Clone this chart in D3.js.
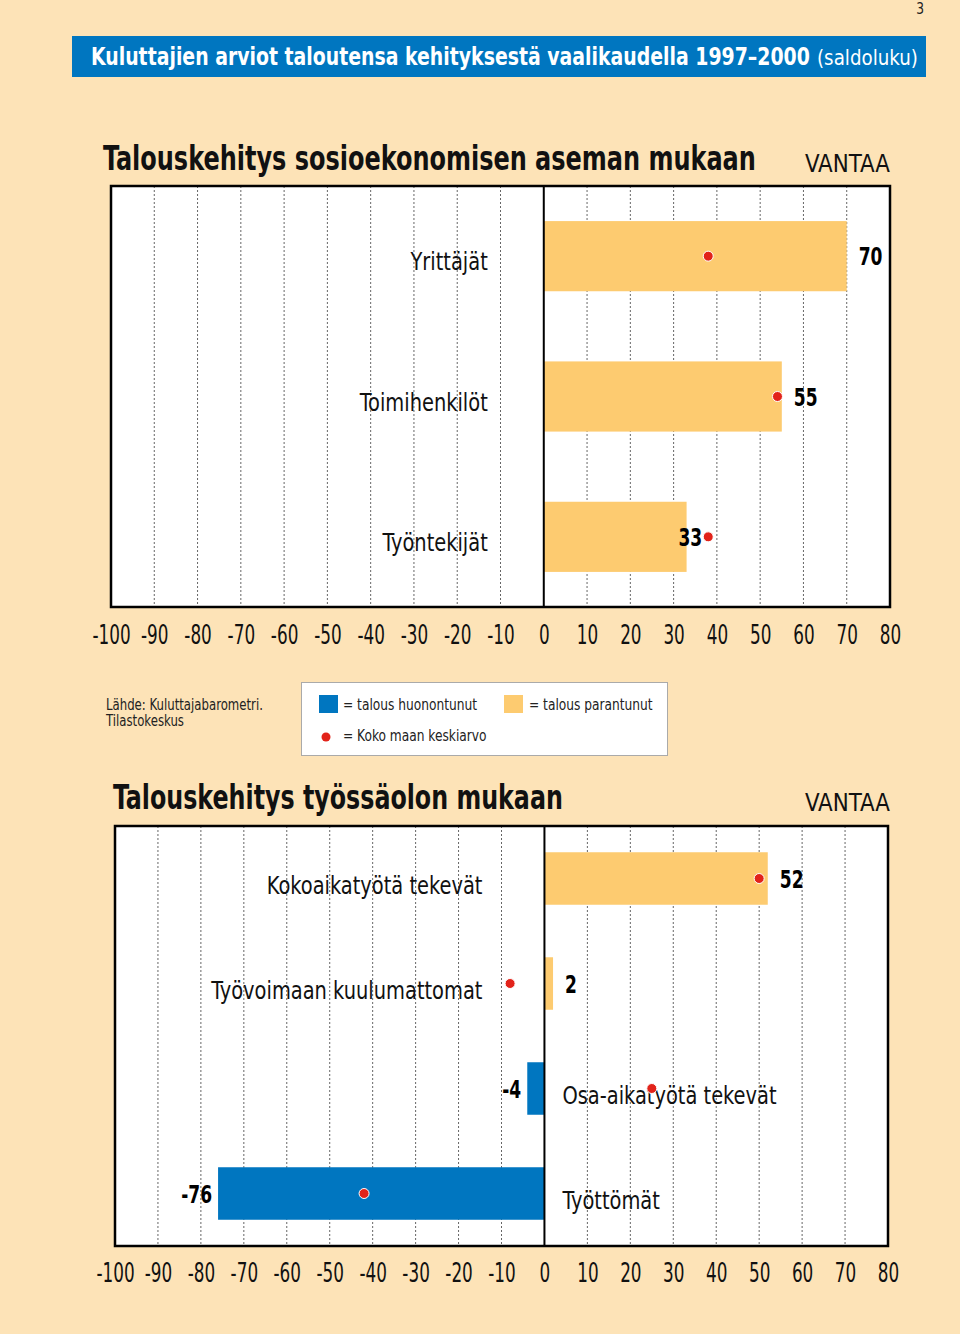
<!DOCTYPE html>
<html><head><meta charset="utf-8">
<script src="https://cdn.jsdelivr.net/npm/d3@7"></script>
<style>
html,body{margin:0;padding:0;background:#fde3b7;}
svg{display:block;}
text{font-family:"DejaVu Sans Condensed","DejaVu Sans",sans-serif;}
</style></head>
<body>
<svg id="c" width="960" height="1334"></svg>
<script>
// ---- data ----
const headerTitle = "Kuluttajien arviot taloutensa kehityksestä vaalikaudella 1997–2000";
const headerNote = "(saldoluku)";
const topTitle = "Talouskehitys sosioekonomisen aseman mukaan";
const bottomTitle = "Talouskehitys työssäolon mukaan";
const regionLabel = "VANTAA";
const topCategories = ["Yrittäjät", "Toimihenkilöt", "Työntekijät"];
const topValues = [70, 55, 33];
const topNationalAvg = [38, 54, 38];
const bottomCategories = ["Kokoaikatyötä tekevät", "Työvoimaan kuulumattomat", "Osa-aikatyötä tekevät", "Työttömät"];
const bottomValues = [52, 2, -4, -76];
const bottomNationalAvg = [50, -8, 25, -42];
const tickValues = [-100, -90, -80, -70, -60, -50, -40, -30, -20, -10, 0, 10, 20, 30, 40, 50, 60, 70, 80];
const legendItems = ["= talous huonontunut", "= talous parantunut", "= Koko maan keskiarvo"];
const sourceLines = ["Lähde: Kuluttajabarometri.", "Tilastokeskus"];

// ---- style ----
const C = {bg:"#fde3b7", blue:"#0076c0", yellow:"#fdcb70", red:"#e2231a", grid:"#666"};
const svg = d3.select("#c");
svg.append("rect").attr("width",960).attr("height",1334).attr("fill",C.bg);

// condensed text helper: text drawn at origin of a translated, horizontally scaled group
function ctext(parent, x, y, str, o){
  o = Object.assign({size:16, weight:"normal", anchor:"start", sx:0.8, fill:"#111", width:null}, o||{});
  const g = parent.append("g");
  const t = g.append("text").attr("x",0).attr("y",0).attr("text-anchor",o.anchor)
    .attr("font-size",o.size).attr("font-weight",o.weight).attr("fill",o.fill).text(str);
  let sx = o.sx;
  if(o.width){ sx = o.width / t.node().getComputedTextLength(); }
  g.attr("transform",`translate(${x},${y}) scale(${sx},1)`);
  return g;
}

ctext(svg, 924, 14, "3", {size:16, anchor:"end", fill:"#222", sx:0.85});

// header bar
svg.append("rect").attr("x",72).attr("y",36).attr("width",854).attr("height",41).attr("fill",C.blue);
ctext(svg, 91, 65, headerTitle, {size:25, weight:"bold", fill:"#fff", width:719});
ctext(svg, 817, 65, headerNote, {size:22, fill:"#fff", width:101});

function drawChart(cfg){
  const x = d3.scaleLinear().domain([-100,80]).range([cfg.x0, cfg.x1]);
  const y = d3.scaleBand().domain(cfg.cats).range([cfg.y0, cfg.y1]).paddingInner(0.5).paddingOuter(0.25);
  const g = svg.append("g");
  // title
  ctext(g, cfg.titleX, cfg.titleY, cfg.title, {size:34, weight:"bold", width:cfg.titleW});
  ctext(g, 805, cfg.titleY+2, regionLabel, {size:25, width:85});
  // plot background
  g.append("rect").attr("x",cfg.x0).attr("y",cfg.y0).attr("width",cfg.x1-cfg.x0).attr("height",cfg.y1-cfg.y0).attr("fill","#fff");
  // grid
  g.selectAll(".grid").data(tickValues.filter(v=>v!==0 && v!==-100 && v!==80)).join("line")
    .attr("x1",d=>x(d)).attr("x2",d=>x(d)).attr("y1",cfg.y0).attr("y2",cfg.y1)
    .attr("stroke",C.grid).attr("stroke-width",1).attr("stroke-dasharray","2,2");
  // bars
  const rows = cfg.cats.map((c,i)=>({c, v:cfg.vals[i], a:cfg.avg[i]}));
  g.selectAll(".bar").data(rows).join("rect")
    .attr("x",d=>x(Math.min(0,d.v))).attr("width",d=>Math.abs(x(d.v)-x(0)))
    .attr("y",d=>y(d.c)).attr("height",y.bandwidth())
    .attr("fill",d=>d.v>=0?C.yellow:C.blue);
  // zero line
  g.append("line").attr("x1",x(0)).attr("x2",x(0)).attr("y1",cfg.y0).attr("y2",cfg.y1).attr("stroke","#000").attr("stroke-width",2);
  // frame
  g.append("rect").attr("x",cfg.x0).attr("y",cfg.y0).attr("width",cfg.x1-cfg.x0).attr("height",cfg.y1-cfg.y0)
    .attr("fill","none").attr("stroke","#000").attr("stroke-width",2.5);
  // category labels
  rows.forEach(d=>{
    ctext(g, d.v>=0? x(0)-cfg.catGap : x(0)+18, y(d.c)+y.bandwidth()/2+cfg.catDy, d.c,
      {size:24, anchor:d.v>=0?"end":"start", sx:0.9});
  });
  // value labels
  rows.forEach(d=>{
    let lx, anchor;
    if(d.v<0){ lx = x(d.v)-6; anchor="end"; }
    else if(d.a>d.v){ lx = x(d.a)-6; anchor="end"; }
    else { lx = x(d.v)+12; anchor="start"; }
    ctext(g, lx, y(d.c)+y.bandwidth()/2+9, String(d.v), {size:25, weight:"bold", anchor, sx:0.76, fill:"#000"});
  });
  // national average dots
  g.selectAll(".dot").data(rows).join("circle")
    .attr("cx",d=>x(d.a)).attr("cy",d=>y(d.c)+y.bandwidth()/2).attr("r",5)
    .attr("fill",C.red).attr("stroke","#fff").attr("stroke-width",1);
  // axis
  const ax = g.append("g").attr("transform",`translate(0,${cfg.y1})`)
    .call(d3.axisBottom(x).tickValues(tickValues).tickFormat(d=>String(d)).tickSize(0).tickPadding(cfg.tickPad));
  ax.select(".domain").remove();
  ax.selectAll("text").attr("font-size",26).attr("fill","#111").attr("transform","scale(0.72,1)")
    .attr("font-family","\"DejaVu Sans Condensed\",\"DejaVu Sans\",sans-serif");
}

drawChart({title:topTitle, titleX:103, titleY:170, titleW:653,
  x0:111, x1:890, y0:186, y1:607, cats:topCategories, vals:topValues, avg:topNationalAvg,
  catGap:56, catDy:14, tickPad:19});
drawChart({title:bottomTitle, titleX:113, titleY:809, titleW:450,
  x0:115, x1:888, y0:826, y1:1246, cats:bottomCategories, vals:bottomValues, avg:bottomNationalAvg,
  catGap:62, catDy:15, tickPad:18});

// source
sourceLines.forEach((d,i)=>ctext(svg, 106, 710+i*16, d, {size:15, fill:"#222", sx:0.87}));

// legend
const lg = svg.append("g");
lg.append("rect").attr("x",301.5).attr("y",682.5).attr("width",366).attr("height",73).attr("fill","#fff").attr("stroke","#aaa");
lg.append("rect").attr("x",319).attr("y",695).attr("width",19).attr("height",18).attr("fill",C.blue);
ctext(lg, 343, 710, legendItems[0], {size:16, fill:"#222", sx:0.85});
lg.append("rect").attr("x",504).attr("y",695).attr("width",19).attr("height",18).attr("fill",C.yellow);
ctext(lg, 529, 710, legendItems[1], {size:16, fill:"#222", sx:0.85});
lg.append("circle").attr("cx",326).attr("cy",737).attr("r",4.5).attr("fill",C.red);
ctext(lg, 343, 741, legendItems[2], {size:16, fill:"#222", sx:0.85});
</script>
</body></html>
